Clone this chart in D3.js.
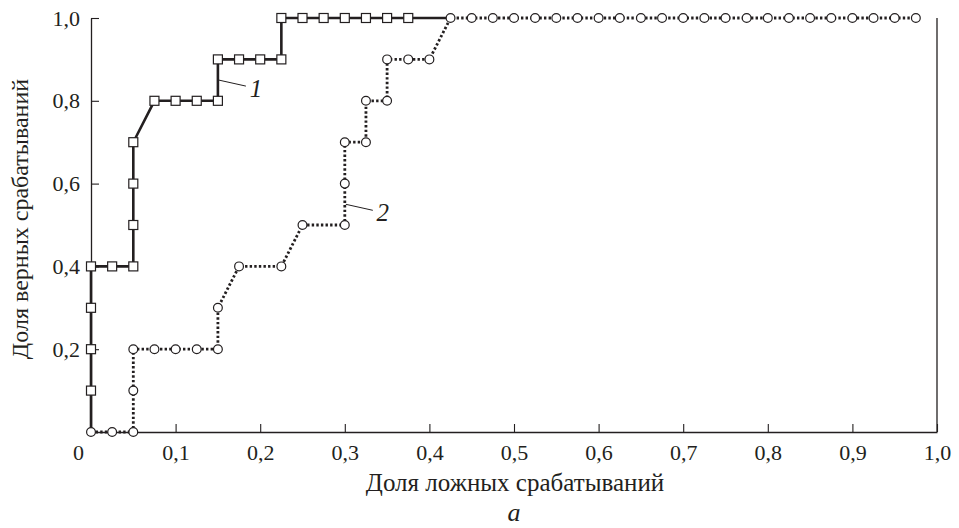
<!DOCTYPE html>
<html>
<head>
<meta charset="utf-8">
<script src="https://cdn.jsdelivr.net/npm/d3@7"></script>
<style>
  html, body { margin: 0; padding: 0; background: #fff; }
  svg { display: block; }
</style>
</head>
<body>
<svg id="chart" width="959" height="528"></svg>
<script>
// ROC curves: 1 - squares / solid, 2 - circles / dotted
const fpr1 = [0, 0, 0, 0, 0, 0.025, 0.05, 0.05, 0.05, 0.05, 0.075, 0.1, 0.125, 0.15, 0.15, 0.175, 0.2, 0.225,
  0.225, 0.25, 0.275, 0.3, 0.325, 0.35, 0.375, 0.425];
const tpr1 = [0, 0.1, 0.2, 0.3, 0.4, 0.4, 0.4, 0.5, 0.6, 0.7, 0.8, 0.8, 0.8, 0.8, 0.9, 0.9, 0.9, 0.9,
  1, 1, 1, 1, 1, 1, 1, 1];
// points of curve 1 drawn without a square (they sit under curve 2 markers)
const noMark1 = [0, 25];

const fpr2 = [0, 0.025, 0.05, 0.05, 0.05, 0.075, 0.1, 0.125, 0.15, 0.15, 0.175, 0.225, 0.25, 0.3, 0.3, 0.3,
  0.325, 0.325, 0.35, 0.35, 0.375, 0.4, 0.425, 0.45, 0.475, 0.5, 0.525, 0.55, 0.575, 0.6, 0.625, 0.65, 0.675,
  0.7, 0.725, 0.75, 0.775, 0.8, 0.825, 0.85, 0.875, 0.9, 0.925, 0.95, 0.975];
const tpr2 = [0, 0, 0, 0.1, 0.2, 0.2, 0.2, 0.2, 0.2, 0.3, 0.4, 0.4, 0.5, 0.5, 0.6, 0.7,
  0.7, 0.8, 0.8, 0.9, 0.9, 0.9, 1, 1, 1, 1, 1, 1, 1, 1, 1, 1, 1,
  1, 1, 1, 1, 1, 1, 1, 1, 1, 1, 1, 1];

const xTicks = [0, 0.1, 0.2, 0.3, 0.4, 0.5, 0.6, 0.7, 0.8, 0.9, 1.0];
const yTicks = [0.2, 0.4, 0.6, 0.8, 1.0];
const xTitle = "Доля ложных срабатываний";
const yTitle = "Доля верных срабатываний";
const panelLetter = "а";
// curve labels: [name, anchor x, anchor y]
const curveLabels = [["1", 0.15, 0.85], ["2", 0.3, 0.55]];

const svg = d3.select("#chart");
const ink = "#231f20";
const serif = "Liberation Serif";
const fmt = (v) => (v === 0 ? "0" : d3.format(".1f")(v).replace(".", ","));

const x = d3.scaleLinear().domain([0, 1]).range([91, 937]);
const y = d3.scaleLinear().domain([0, 1]).range([432, 18]);

// axes (ticks point inward)
const gx = svg.append("g")
  .attr("transform", `translate(0,${y(0)})`)
  .call(d3.axisBottom(x).tickValues(xTicks).tickFormat(fmt).tickSizeInner(-8).tickSizeOuter(0).tickPadding(12));
const gy = svg.append("g")
  .attr("transform", `translate(${x(0)},0)`)
  .call(d3.axisLeft(y).tickValues(yTicks).tickFormat(fmt).tickSizeInner(-8).tickSizeOuter(0).tickPadding(11));

[gx, gy].forEach((g) => {
  g.attr("font-family", serif).attr("font-size", 22);
  g.select(".domain").attr("stroke", ink).attr("stroke-width", 1.3);
  g.selectAll(".tick line").attr("stroke", ink).attr("stroke-width", 1.1);
  g.selectAll(".tick text").attr("fill", ink);
});
// the "0" sits left of the origin
gx.selectAll(".tick").filter((d) => d === 0).select("text").attr("x", -13);
gx.selectAll(".tick").filter((d) => d === 0).select("line").remove();

// right frame
svg.append("line")
  .attr("x1", x(1)).attr("x2", x(1))
  .attr("y1", y(1)).attr("y2", y(0))
  .attr("stroke", ink).attr("stroke-width", 1.3);

const pts1 = fpr1.map((v, i) => [v, tpr1[i]]);
const pts2 = fpr2.map((v, i) => [v, tpr2[i]]);
const line = d3.line().x((d) => x(d[0])).y((d) => y(d[1]));

svg.append("path").datum(pts1)
  .attr("d", line).attr("fill", "none")
  .attr("stroke", ink).attr("stroke-width", 2.6);

svg.append("path").datum(pts2)
  .attr("d", line).attr("fill", "none")
  .attr("stroke", ink).attr("stroke-width", 2.8)
  .attr("stroke-dasharray", "2.4,2.2");

const sq = 9;
svg.append("g").selectAll("rect")
  .data(pts1.filter((d, i) => !noMark1.includes(i)))
  .join("rect")
  .attr("x", (d) => x(d[0]) - sq / 2)
  .attr("y", (d) => y(d[1]) - sq / 2)
  .attr("width", sq).attr("height", sq)
  .attr("fill", "#fff").attr("stroke", ink).attr("stroke-width", 1.2);

svg.append("g").selectAll("circle")
  .data(pts2)
  .join("circle")
  .attr("cx", (d) => x(d[0]))
  .attr("cy", (d) => y(d[1]))
  .attr("r", 4.4)
  .attr("fill", "#fff").attr("stroke", ink).attr("stroke-width", 1.2);

// curve labels with leader lines
curveLabels.forEach(([name, lx, ly]) => {
  const ax = x(lx), ay = y(ly);
  svg.append("line")
    .attr("x1", ax + 1).attr("y1", ay)
    .attr("x2", ax + 28).attr("y2", ay + 6)
    .attr("stroke", ink).attr("stroke-width", 1);
  svg.append("text")
    .attr("x", ax + 38).attr("y", ay + 17)
    .attr("text-anchor", "middle")
    .attr("font-family", serif).attr("font-size", 25).attr("font-style", "italic")
    .attr("fill", ink)
    .text(name);
});

// titles
svg.append("text")
  .attr("x", (x(0) + x(1)) / 2 + 1).attr("y", 491)
  .attr("text-anchor", "middle")
  .attr("font-family", serif).attr("font-size", 25)
  .attr("fill", ink)
  .text(xTitle);

svg.append("text")
  .attr("transform", `translate(28,${(y(0) + y(1)) / 2 - 6}) rotate(-90)`)
  .attr("text-anchor", "middle")
  .attr("font-family", serif).attr("font-size", 24)
  .attr("fill", ink)
  .text(yTitle);

svg.append("text")
  .attr("x", 514).attr("y", 521)
  .attr("text-anchor", "middle")
  .attr("font-family", serif).attr("font-size", 26).attr("font-style", "italic")
  .attr("fill", ink)
  .text(panelLetter);
</script>
</body>
</html>
